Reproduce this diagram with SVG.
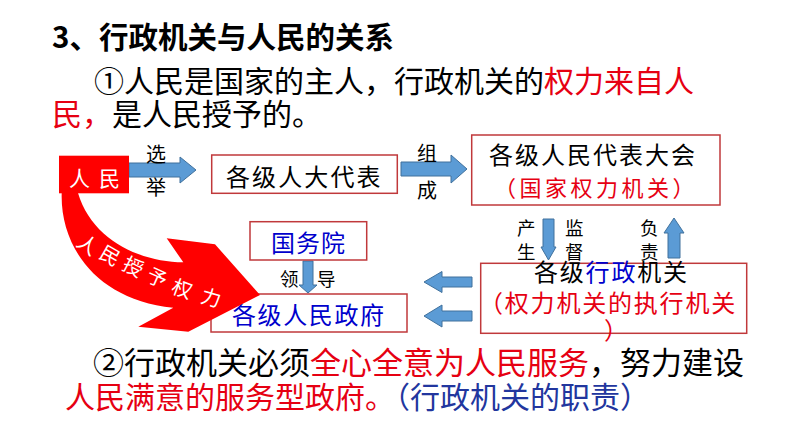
<svg xmlns="http://www.w3.org/2000/svg" width="794" height="447" viewBox="0 0 794 447">
<style>
text{font-family:"Noto Sans CJK SC","Noto Sans",sans-serif;}
.t{font-size:30px;fill:#000;}
.nt{font-size:24px;fill:#000;}
.lbl{font-size:18.5px;fill:#000;}
.red{fill:#e60012;}
.blu{fill:#0000cc;}
.dblu{fill:#22369e;}
.box{fill:#fff;stroke:#c0393b;stroke-width:1.5;}
.barrow{fill:#5b9bd5;stroke:#41719c;stroke-width:1;}
.wt{font-size:20px;fill:#fff;text-anchor:middle;}
</style>
<rect width="794" height="447" fill="#fff"/>

<text x="52" y="48" style="font-size:29.5px;font-weight:700;fill:#000">3、行政机关与人民的关系</text>
<text class="t" x="94" y="92">①人民是国家的主人，行政机关的<tspan class="red">权力来自人</tspan></text>
<text class="t" x="52" y="125"><tspan class="red">民，</tspan>是人民授予的。</text>

<g id="node-zhengfu">
<rect class="box" x="211" y="294" width="196" height="38"/>
<text class="nt blu" x="232" y="324" style="letter-spacing:1.6px">各级人民政府</text>
</g>

<g id="connectors">
<polygon class="barrow" points="129,163 180,163 180,157 196,170 180,183 180,177 129,177"/>
<polygon class="barrow" points="401,162 451,162 451,155 467,169 451,183 451,176 401,176"/>
<polygon class="barrow" points="424,282 442,271.5 442,277 472,277 472,287 442,287 442,292.5"/>
<polygon class="barrow" points="424,316 442,305 442,311 472,311 472,321 442,321 442,327"/>
<polygon class="barrow" points="543,219 554,219 554,247 556,247 548.5,260 541,247 543,247"/>
<polygon class="barrow" points="674,218 684,233 680,233 680,258 668,258 668,233 664,233"/>
<polygon class="barrow" points="303,261 313,261 313,285 317,285 308,293 299,285 303,285"/>
<path d="M61.7,193 C60,245 95,300 173.3,307.7 L138.3,326.7 L188.3,331.7 L260,295 L215,244.3 L166.7,238.3 L183.3,262.3 C140,262 92,240 78,193 Z" fill="#ff0000"/>
<text class="wt" transform="translate(87.5,245) rotate(35)" dy="7">人</text>
<text class="wt" transform="translate(110,256) rotate(30)" dy="7">民</text>
<text class="wt" transform="translate(133,267) rotate(27)" dy="7">授</text>
<text class="wt" transform="translate(157,278) rotate(24)" dy="7">予</text>
<text class="wt" transform="translate(182,289) rotate(20)" dy="7">权</text>
<text class="wt" transform="translate(211,298) rotate(16)" dy="7">力</text>
<text class="lbl" x="146" y="162" style="font-size:20px">选</text>
<text class="lbl" x="146" y="195" style="font-size:20px">举</text>
<text class="lbl" x="417" y="161" style="font-size:20px">组</text>
<text class="lbl" x="417" y="198" style="font-size:20px">成</text>
<text class="lbl" x="517" y="235">产</text>
<text class="lbl" x="517" y="259">生</text>
<text class="lbl" x="565" y="235">监</text>
<text class="lbl" x="565" y="259">督</text>
<text class="lbl" x="640" y="235">负</text>
<text class="lbl" x="640" y="259">责</text>
<text class="lbl" x="280" y="286">领</text>
<text class="lbl" x="317" y="286">导</text>
</g>

<g id="node-renmin">
<rect x="59" y="155.7" width="70" height="37.6" fill="#ff0000"/>
<text x="69" y="186" style="font-size:21px;fill:#fff;letter-spacing:9px">人民</text>
</g>

<g id="node-rendadaibiao">
<rect class="box" x="211.7" y="155" width="185.6" height="38.3"/>
<text class="nt" x="226" y="186" style="letter-spacing:2.1px">各级人大代表</text>
</g>

<g id="node-renda">
<rect class="box" x="471.7" y="135" width="248.3" height="70"/>
<text class="nt" x="489" y="164" style="letter-spacing:2px">各级人民代表大会</text>
<text class="red" x="494" y="196" style="font-size:22px;letter-spacing:3.5px">（国家权力机关）</text>
</g>

<g id="node-guowuyuan">
<rect class="box" x="250" y="221.7" width="116.7" height="38.3"/>
<text class="nt blu" x="271" y="252" style="letter-spacing:1px">国务院</text>
</g>

<g id="node-xingzheng">
<rect class="box" x="480.7" y="263.3" width="266" height="70"/>
<text class="nt" x="534" y="281" style="letter-spacing:1.8px">各级<tspan class="blu">行政</tspan>机关</text>
<text class="red" x="479" y="312" style="font-size:24px;letter-spacing:1.8px">（权力机关的执行机关</text>
<text class="red" x="604" y="339" style="font-size:24px">）</text>
</g>

<text x="93" y="374" style="font-size:31px;fill:#000">②行政机关必须<tspan class="red">全心全意为人民服务</tspan>，努力建设</text>
<text class="t" x="65" y="408"><tspan class="red">人民满意的服务型政府。</tspan><tspan class="dblu">（行政机关的职责）</tspan></text>
</svg>
